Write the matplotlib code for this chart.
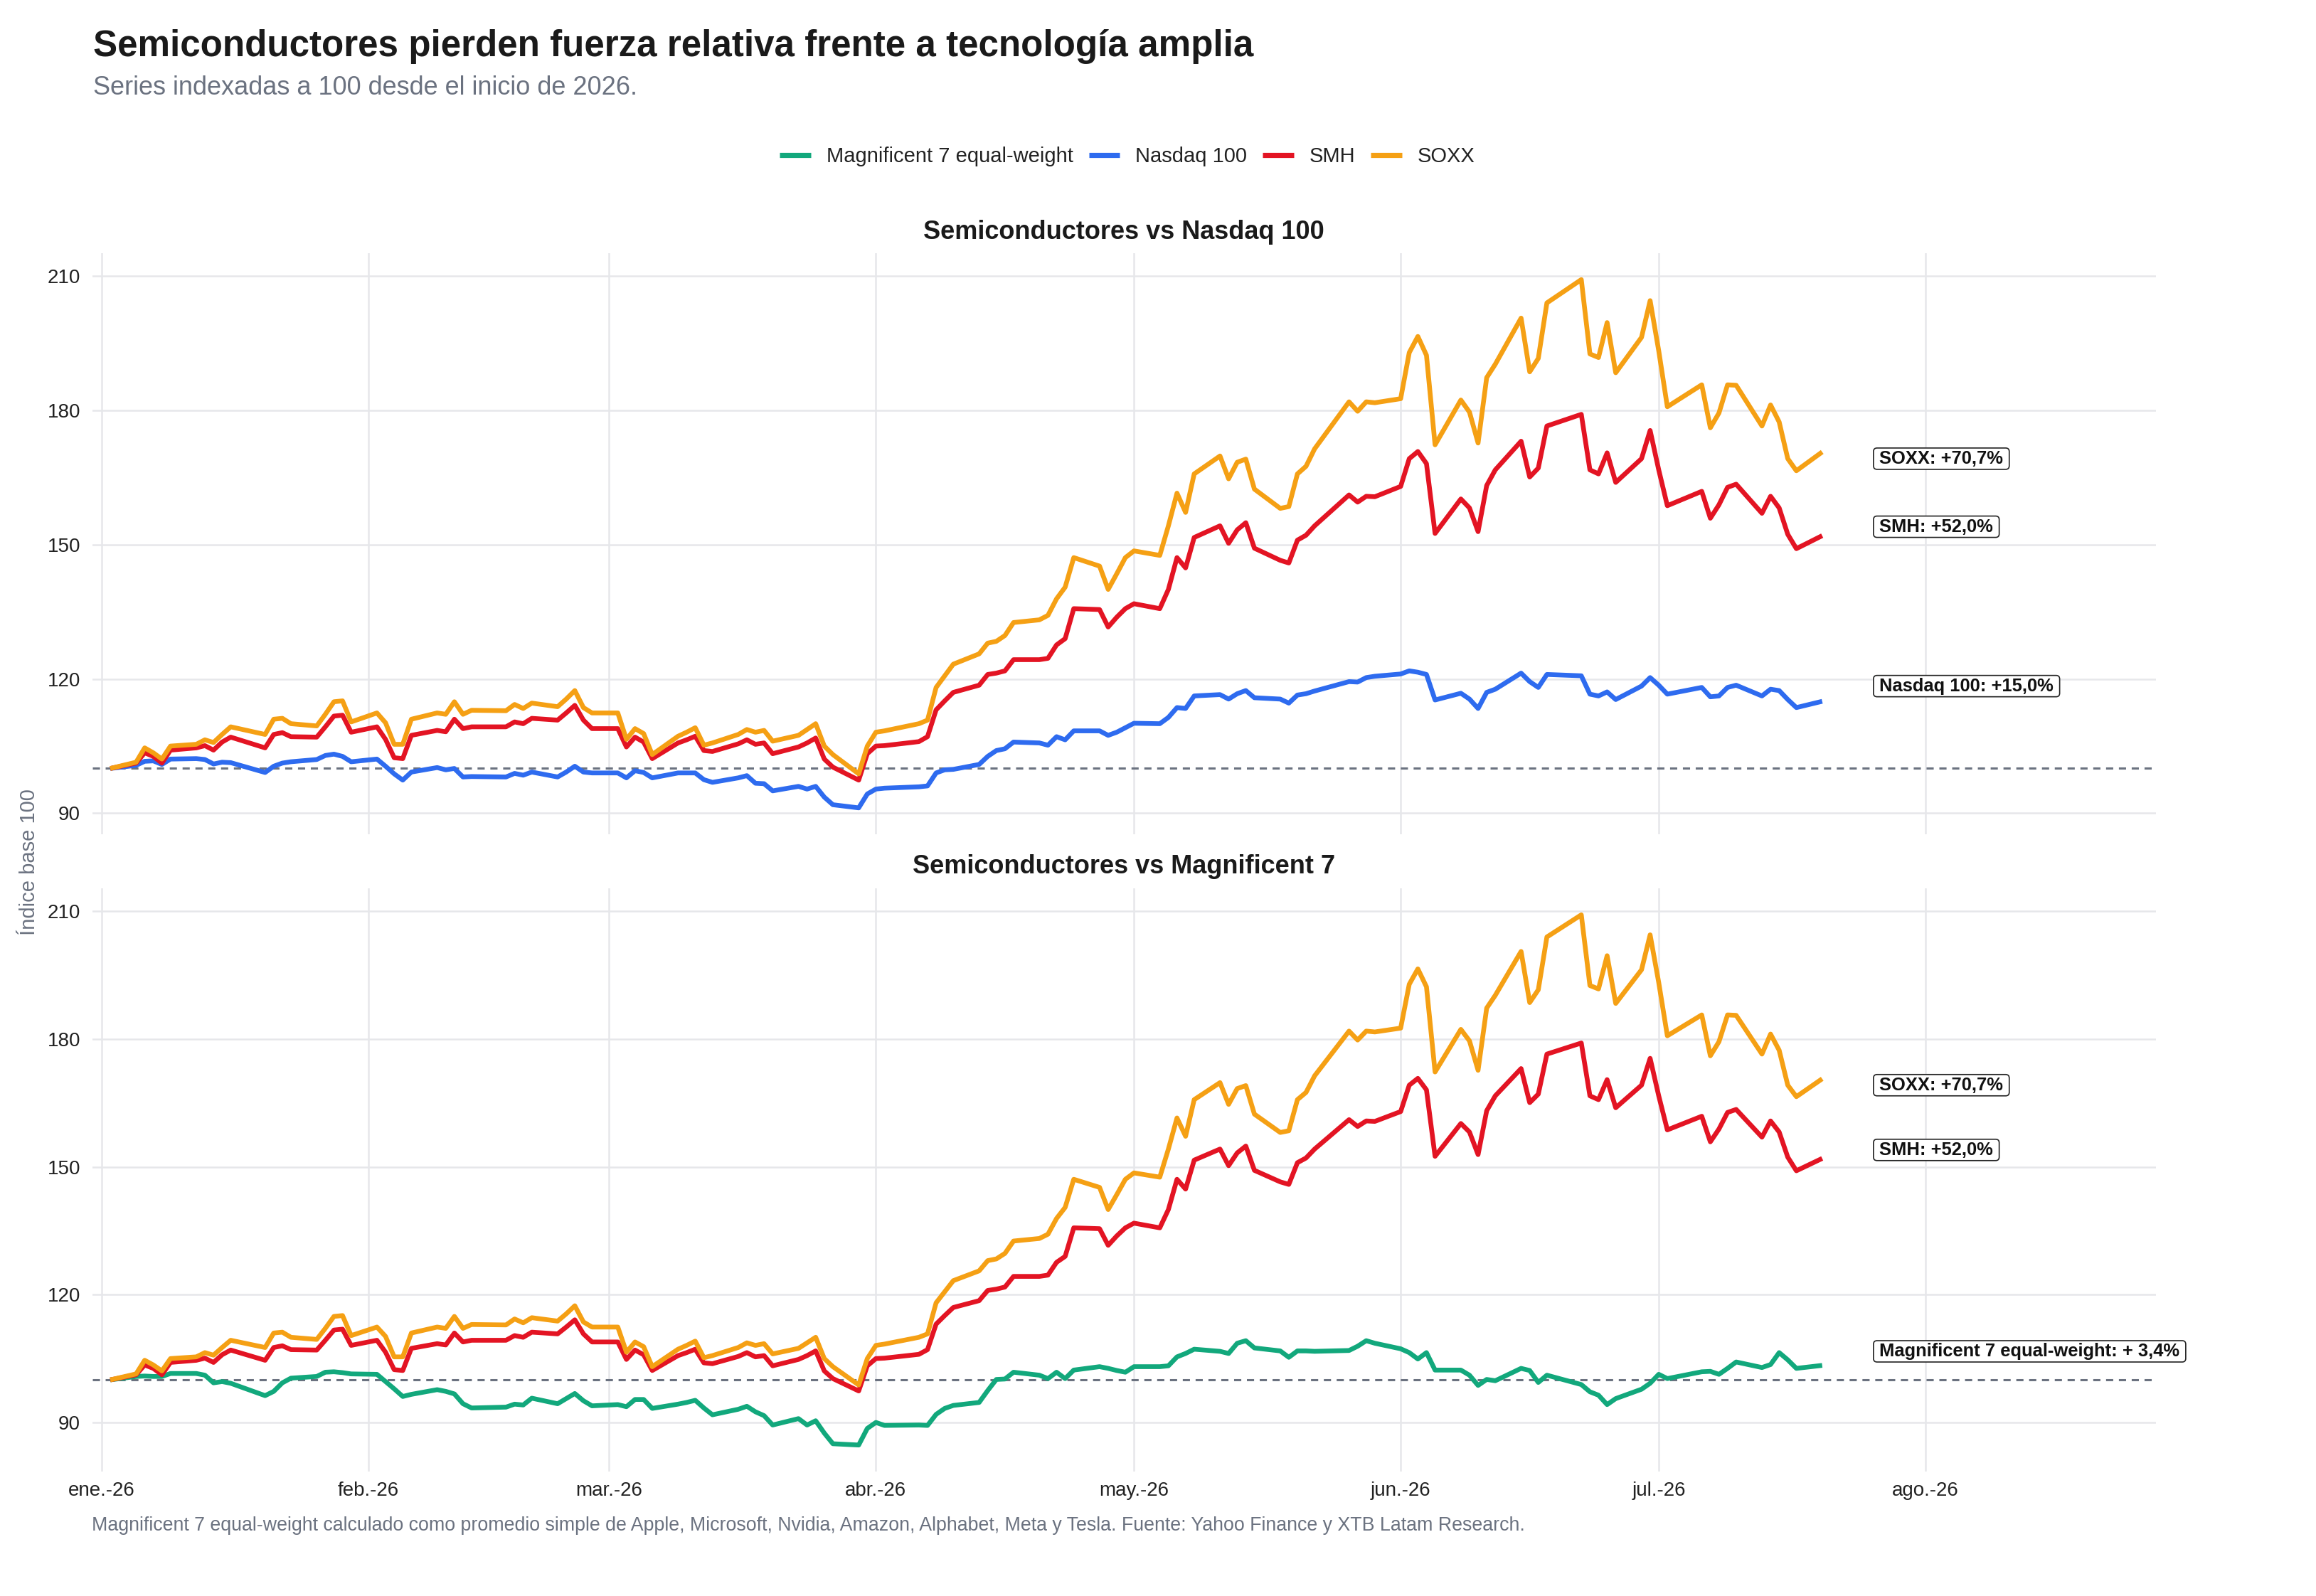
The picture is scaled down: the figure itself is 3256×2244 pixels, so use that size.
import numpy as np
import pandas as pd
import matplotlib
matplotlib.use("Agg")
import matplotlib.pyplot as plt
import matplotlib.dates as mdates
from matplotlib.lines import Line2D
from matplotlib.patches import FancyBboxPatch
from matplotlib.transforms import IdentityTransform

plt.rcParams['font.family'] = ['Liberation Sans', 'DejaVu Sans']

# ---------------- data ----------------
holidays = ['2026-01-19', '2026-02-16', '2026-04-03', '2026-05-25', '2026-06-19', '2026-07-03']
dates = pd.bdate_range('2026-01-02', '2026-07-20', freq='C', holidays=holidays)

nasdaq_100 = [
    # ene
    100.0, 100.7, 101.6, 101.7, 100.9, 102.1, 102.2, 102.0, 101.0, 101.4,
    101.3, 99.1, 100.5, 101.2, 101.5, 102.0, 102.9, 103.2, 102.7, 101.5,
    # feb
    102.1, 100.5, 98.8, 97.4, 99.2, 100.2, 99.7, 100.0, 98.1, 98.2,
    98.1, 98.9, 98.5, 99.2, 98.1, 99.2, 100.5, 99.2, 99.0,
    # mar
    99.0, 97.9, 99.5, 99.1, 97.9, 99.0, 99.0, 99.0, 97.5, 96.9, 97.9,
    98.4, 96.7, 96.6, 95.0, 96.0, 95.4, 96.0, 93.6, 91.9, 91.2, 94.3,
    # abr
    95.4, 95.6, 95.9, 96.1, 99.0, 99.7, 99.8, 100.9, 102.7, 104.0, 104.4,
    105.9, 105.7, 105.2, 107.1, 106.4, 108.4, 108.4, 107.4, 108.1, 109.1,
    # may
    110.1, 110.0, 111.4, 113.6, 113.4, 116.2, 116.5, 115.5, 116.7, 117.4,
    115.8, 115.5, 114.6, 116.4, 116.7, 117.3, 119.4, 119.3, 120.3, 120.6,
    # jun
    121.1, 121.8, 121.5, 121.0, 115.3, 116.8, 115.5, 113.4, 117.0, 117.7, 121.3,
    119.4, 118.1, 121.0, 120.7, 116.6, 116.2, 117.1, 115.4, 118.4, 120.3,
    # jul
    118.6, 116.6, 118.1, 116.0, 116.2, 118.1, 118.6, 116.2, 117.7, 117.4,
    115.4, 113.6, 115.0,
]

smh = [
    100.0, 101.2, 103.5, 102.7, 101.2, 104.1, 104.6, 105.1, 104.1, 105.9,
    107.0, 104.6, 107.6, 108.0, 107.1, 107.0, 109.3, 111.7, 111.9, 108.1,
    109.3, 106.5, 102.4, 102.2, 107.4, 108.5, 108.2, 111.0, 108.9, 109.3,
    109.3, 110.4, 110.0, 111.2, 110.8, 112.4, 114.1, 110.8, 108.9,
    108.9, 104.8, 107.0, 105.9, 102.2, 105.7, 106.4, 107.2, 104.0, 103.8, 105.5,
    106.4, 105.4, 105.7, 103.3, 104.8, 105.7, 106.8, 102.1, 100.3, 97.4, 103.3,
    105.0, 105.1, 106.0, 107.1, 113.1, 115.1, 117.0, 118.6, 121.0, 121.3, 121.8,
    124.3, 124.3, 124.6, 127.6, 129.0, 135.7, 135.5, 131.6, 133.8, 135.7,
    136.8, 135.7, 140.0, 147.1, 144.8, 151.6, 154.2, 150.3, 153.3, 154.9,
    149.2, 146.5, 145.9, 151.0, 152.1, 154.2, 161.1, 159.5, 160.8, 160.7,
    163.0, 169.2, 170.8, 168.1, 152.5, 160.2, 158.2, 152.9, 163.2, 166.7, 173.1,
    165.1, 167.1, 176.5, 179.1, 166.7, 165.8, 170.5, 163.9, 169.2, 175.5,
    166.7, 158.7, 161.9, 155.9, 158.9, 162.8, 163.5, 157.0, 160.8, 158.2,
    152.3, 149.1, 152.0,
]

soxx = [
    100.0, 101.4, 104.6, 103.5, 102.1, 105.0, 105.4, 106.4, 105.8, 107.6,
    109.3, 107.6, 111.0, 111.2, 110.0, 109.5, 112.1, 114.9, 115.1, 110.4,
    112.4, 110.2, 105.4, 105.4, 111.0, 112.4, 112.1, 114.9, 112.1, 113.0,
    112.9, 114.3, 113.4, 114.6, 113.8, 115.5, 117.4, 113.6, 112.4,
    112.4, 106.5, 108.9, 107.8, 103.1, 107.2, 108.1, 109.1, 105.2, 105.7, 107.6,
    108.7, 108.1, 108.5, 106.1, 107.4, 108.7, 110.0, 105.0, 103.1, 98.8, 105.0,
    108.1, 108.4, 110.0, 110.8, 118.1, 120.7, 123.3, 125.6, 128.0, 128.4, 129.7,
    132.6, 133.2, 134.2, 137.9, 140.5, 147.1, 145.2, 140.0, 143.5, 147.1,
    148.6, 147.6, 154.2, 161.5, 157.2, 165.8, 169.8, 164.7, 168.4, 169.1,
    162.4, 158.1, 158.5, 165.8, 167.5, 171.4, 181.9, 179.8, 181.9, 181.7,
    182.6, 192.9, 196.5, 192.3, 172.3, 182.3, 179.6, 172.7, 187.3, 190.3, 200.6,
    188.6, 191.6, 204.0, 209.2, 192.6, 191.8, 199.6, 188.4, 196.3, 204.5,
    193.3, 180.8, 185.7, 176.1, 179.4, 185.7, 185.6, 176.5, 181.2, 177.4,
    169.2, 166.5, 170.7,
]

mag7_ew = [
    100.0, 100.8, 100.9, 100.8, 100.8, 101.5, 101.5, 101.1, 99.3, 99.6,
    99.2, 96.3, 97.3, 99.3, 100.4, 100.8, 101.8, 101.9, 101.7, 101.4,
    101.3, 99.6, 97.9, 96.1, 96.6, 97.7, 97.3, 96.7, 94.4, 93.4,
    93.6, 94.3, 94.1, 95.7, 94.4, 95.6, 96.8, 95.1, 93.9,
    94.2, 93.7, 95.4, 95.4, 93.3, 94.3, 94.7, 95.2, 93.4, 91.8, 93.1,
    93.8, 92.5, 91.6, 89.4, 90.9, 89.4, 90.4, 87.5, 85.0, 84.7, 88.6,
    90.0, 89.3, 89.4, 89.3, 91.9, 93.3, 94.0, 94.7, 97.5, 100.1, 100.2,
    101.8, 101.1, 100.3, 101.8, 100.3, 102.3, 103.1, 102.7, 102.2, 101.8,
    103.1, 103.1, 103.3, 105.4, 106.2, 107.2, 106.7, 106.2, 108.6, 109.2,
    107.5, 106.8, 105.3, 106.8, 106.8, 106.7, 106.9, 107.9, 109.2, 108.6,
    107.3, 106.4, 104.9, 106.4, 102.3, 102.3, 101.1, 98.7, 100.1, 99.8, 102.7,
    102.2, 99.4, 101.1, 98.9, 97.2, 96.4, 94.2, 95.6, 97.8, 99.2,
    101.3, 100.3, 101.9, 102.0, 101.3, 102.7, 104.2, 102.9, 103.6, 106.4,
    104.7, 102.7, 103.4,
]

series_names = ['Magnificent 7 equal-weight', 'Nasdaq 100', 'SMH', 'SOXX']
month_ticks = ['2026-01-01', '2026-02-01', '2026-03-01', '2026-04-01',
               '2026-05-01', '2026-06-01', '2026-07-01', '2026-08-01']
month_labels = ['ene.-26', 'feb.-26', 'mar.-26', 'abr.-26',
                'may.-26', 'jun.-26', 'jul.-26', 'ago.-26']
y_ticks = [90, 120, 150, 180, 210]

title = 'Semiconductores pierden fuerza relativa frente a tecnología amplia'
subtitle = 'Series indexadas a 100 desde el inicio de 2026.'
caption = ('Magnificent 7 equal-weight calculado como promedio simple de Apple, Microsoft, '
           'Nvidia, Amazon, Alphabet, Meta y Tesla. Fuente: Yahoo Finance y XTB Latam Research.')
panel_titles = ['Semiconductores vs Nasdaq 100', 'Semiconductores vs Magnificent 7']

# ---------------- style ----------------
colors = {
    'Magnificent 7 equal-weight': '#12A87C',
    'Nasdaq 100': '#2E6BEF',
    'SMH': '#E31423',
    'SOXX': '#F5A014',
}
values = {
    'Magnificent 7 equal-weight': mag7_ew,
    'Nasdaq 100': nasdaq_100,
    'SMH': smh,
    'SOXX': soxx,
}
label_nudge = {'SOXX': -1.5, 'SMH': 2.0, 'Nasdaq 100': 3.4, 'Magnificent 7 equal-weight': 3.3}

W, H = 3256, 2244
DPI = 200
fig = plt.figure(figsize=(W / DPI, H / DPI), dpi=DPI, facecolor='white')

def fx(px):
    return px / W

def fy(px):
    return 1 - px / H

left, right = 130, 3031
panels = [(356, 1173), (1249, 2069)]
panel_series = [['Nasdaq 100', 'SMH', 'SOXX'],
                ['Magnificent 7 equal-weight', 'SMH', 'SOXX']]

x_dates = mdates.date2num(dates.to_pydatetime())
jan1 = mdates.date2num(pd.Timestamp('2026-01-01').to_pydatetime())
aug1 = mdates.date2num(pd.Timestamp('2026-08-01').to_pydatetime())
xlim = (jan1 - 1.07, aug1 + 26.8)
label_x = mdates.date2num(pd.Timestamp('2026-07-26').to_pydatetime())

text_dark = '#222222'
grey = '#6B7280'
label_texts = []

for i, ((top, bot), names) in enumerate(zip(panels, panel_series)):
    ax = fig.add_axes([fx(left), fy(bot), fx(right - left), (bot - top) / H])
    allv = np.concatenate([np.asarray(values[n]) for n in names])
    lo, hi = allv.min(), allv.max()
    pad = 0.05 * (hi - lo)
    ax.set_ylim(lo - pad, hi + pad)
    ax.set_xlim(*xlim)
    ax.axhline(100, color=grey, lw=1.1, ls=(0, (3.3, 2.6)), zorder=2)
    for n in names:
        ax.plot(x_dates, values[n], color=colors[n], lw=2.4, zorder=3,
                solid_joinstyle='round', solid_capstyle='butt')
        final = values[n][-1]
        pct = round((final / 100 - 1) * 100, 1)
        lab = f"{n}: +{pct:4.1f}%".replace('.', ',')
        t = ax.annotate(lab, xy=(label_x, final + label_nudge[n]), xytext=(2.9, 0),
                        textcoords='offset points', ha='left', va='center',
                        fontsize=9.2, fontweight='bold', color='#111111',
                        zorder=6, annotation_clip=False)
        label_texts.append(t)
    ax.set_yticks(y_ticks)
    ax.set_xticks([mdates.date2num(pd.Timestamp(d).to_pydatetime()) for d in month_ticks])
    ax.set_xticklabels(month_labels)
    ax.grid(True, color='#E6E7EA', lw=0.9)
    ax.set_axisbelow(True)
    for s in ax.spines.values():
        s.set_visible(False)
    ax.tick_params(length=0, labelsize=10, labelcolor=text_dark)
    ax.tick_params(axis='y', pad=6.1)
    ax.tick_params(axis='x', pad=5.0)
    if i == 0:
        ax.tick_params(labelbottom=False)
    fig.text(fx(1580), fy(top - 30), panel_titles[i], ha='center', va='center',
             fontsize=13, fontweight='bold', color='#1a1a1a')

# titles & annotations
fig.text(fx(131), fy(79), title, fontsize=18.4, fontweight='bold', va='baseline',
         ha='left', color='#1a1a1a')
fig.text(fx(131), fy(133), subtitle, fontsize=13, va='baseline', ha='left', color=grey)
fig.text(fx(129), fy(2145), caption, fontsize=9.65, va='center', ha='left', color=grey)
fig.text(fx(41), fy(1212), 'Índice base 100', rotation=90, ha='center', va='center',
         fontsize=10.5, color=grey)

handles = [Line2D([0], [0], color=colors[n], lw=2.6, solid_capstyle='butt') for n in series_names]
fig.legend(handles, series_names, loc='center', bbox_to_anchor=(fx(1585), fy(220)),
           ncol=4, frameon=False, fontsize=10.5, handlelength=1.5, handletextpad=0.75,
           columnspacing=0.75, labelcolor=text_dark)

# label boxes (drawn in pixel space around the texts)
fig.canvas.draw()
renderer = fig.canvas.get_renderer()
padx, pady = 8.5, 3.0
for t in label_texts:
    bb = t.get_window_extent(renderer)
    box = FancyBboxPatch((bb.x0 - padx, bb.y0 - pady), bb.width + 2 * padx, bb.height + 2 * pady,
                         boxstyle='round,pad=0,rounding_size=5', transform=IdentityTransform(),
                         facecolor='white', edgecolor='#222222', lw=0.6, clip_on=False, zorder=5)
    t.axes.add_artist(box)

fig.savefig('out.png', dpi=DPI, facecolor='white')
